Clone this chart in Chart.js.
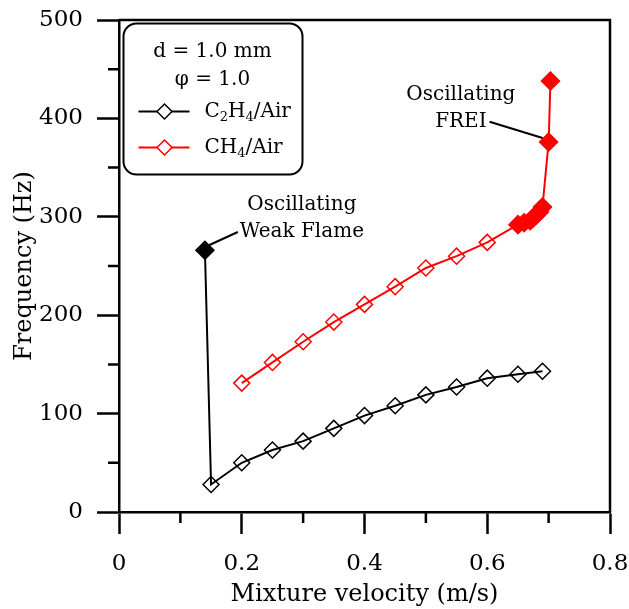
<!DOCTYPE html>
<html>
<head>
<meta charset="utf-8">
<script src="https://cdn.jsdelivr.net/npm/chart.js@4.4.1/dist/chart.umd.min.js"></script>
<style>
html, body { margin: 0; padding: 0; background: #fff; }
</style>
</head>
<body>
<canvas id="chart" width="629" height="609"></canvas>
<script>
// Frequency vs mixture velocity, d = 1.0 mm, phi = 1.0

const c2h4Velocity   = [0.14, 0.15, 0.20, 0.25, 0.30, 0.35, 0.40, 0.45, 0.50, 0.55, 0.60, 0.65, 0.69];
const c2h4Frequency  = [266, 28, 50, 63, 72, 85, 98, 108, 119, 127, 136, 140, 143];
const c2h4Oscillating = [true, false, false, false, false, false, false, false, false, false, false, false, false];

const ch4Velocity   = [0.20, 0.25, 0.30, 0.35, 0.40, 0.45, 0.50, 0.55, 0.60, 0.65, 0.66, 0.67, 0.675, 0.68, 0.685, 0.69, 0.70, 0.703];
const ch4Frequency  = [131, 152, 173, 193, 211, 229, 248, 260, 274, 292, 294, 296, 299, 302, 305, 310, 376, 438];
const ch4Oscillating = [false, false, false, false, false, false, false, false, false, true, true, true, true, true, true, true, true, true];

const xTicks = [0, 0.2, 0.4, 0.6, 0.8];
const yTicks = [0, 100, 200, 300, 400, 500];

const FONT = '"DejaVu Serif", serif';

const toPoints = (xs, ys) => xs.map((v, i) => ({ x: v, y: ys[i] }));

// text notes next to the oscillating points (placed in data units)
const notes = [
    { lines: ['Oscillating', 'Weak Flame'], x: 0.298, y: 312, side: 'left', dataset: 0, index: 0, off: [4, -5] },
    { lines: ['Oscillating', 'FREI'], x: 0.557, y: 424, side: 'right', dataset: 1, index: 16, off: [-6, -4] }
];

function drawDiamond(ctx, x, y, r, color, filled) {
    ctx.beginPath();
    ctx.moveTo(x, y - r);
    ctx.lineTo(x + r, y);
    ctx.lineTo(x, y + r);
    ctx.lineTo(x - r, y);
    ctx.closePath();
    ctx.fillStyle = filled ? color : '#fff';
    ctx.fill();
    ctx.strokeStyle = color;
    ctx.lineWidth = 1.5;
    ctx.stroke();
}

// draws text with subscript parts: [[text, isSub], ...]
function drawRich(ctx, parts, x, y, size) {
    ctx.textAlign = 'left';
    ctx.textBaseline = 'middle';
    ctx.fillStyle = '#000';
    parts.forEach(([t, sub]) => {
        ctx.font = (sub ? Math.round(size * 0.65) : size) + 'px ' + FONT;
        ctx.fillText(t, x, sub ? y + 6 : y);
        x += ctx.measureText(t).width;
    });
}

const extras = {
    id: 'extras',
    afterDatasetsDraw(chart) {
        const { ctx, chartArea: a, scales: { x, y } } = chart;
        ctx.save();
        ctx.strokeStyle = '#000';
        ctx.lineWidth = 2.5;

        // top and right frame
        ctx.beginPath();
        ctx.moveTo(a.left, a.top);
        ctx.lineTo(a.right, a.top);
        ctx.lineTo(a.right, a.bottom);
        ctx.stroke();

        // minor ticks
        ctx.beginPath();
        for (let i = 0; i < xTicks.length - 1; i++) {
            const px = x.getPixelForValue((xTicks[i] + xTicks[i + 1]) / 2);
            ctx.moveTo(px, a.bottom);
            ctx.lineTo(px, a.bottom + 11);
        }
        for (let i = 0; i < yTicks.length - 1; i++) {
            const py = y.getPixelForValue((yTicks[i] + yTicks[i + 1]) / 2);
            ctx.moveTo(a.left, py);
            ctx.lineTo(a.left - 11, py);
        }
        ctx.stroke();

        // notes
        ctx.font = '20px ' + FONT;
        ctx.fillStyle = '#000';
        ctx.textAlign = 'center';
        ctx.textBaseline = 'middle';
        notes.forEach(n => {
            const cx = x.getPixelForValue(n.x);
            const cy = y.getPixelForValue(n.y);
            n.lines.forEach((t, i) => ctx.fillText(t, cx, cy + i * 27));
            const w = ctx.measureText(n.lines[1]).width;
            const sx = n.side === 'left' ? cx - w / 2 - 2 : cx + w / 2 + 3;
            const pt = chart.getDatasetMeta(n.dataset).data[n.index];
            ctx.beginPath();
            ctx.lineWidth = 2;
            ctx.moveTo(sx, cy + 27);
            ctx.lineTo(pt.x + n.off[0], pt.y + n.off[1]);
            ctx.stroke();
        });
        ctx.restore();
    },
    afterDraw(chart) {
        const { ctx, chartArea: a } = chart;
        const L = a.left + 4.5, T = a.top + 3.5, W = 179, H = 151, R = 13;
        ctx.save();
        ctx.beginPath();
        ctx.roundRect(L, T, W, H, R);
        ctx.fillStyle = '#fff';
        ctx.fill();
        ctx.strokeStyle = '#000';
        ctx.lineWidth = 2;
        ctx.stroke();

        ctx.font = '20px ' + FONT;
        ctx.fillStyle = '#000';
        ctx.textAlign = 'center';
        ctx.textBaseline = 'middle';
        ctx.fillText('d = 1.0 mm', L + 89, T + 28);
        ctx.fillText('\u03c6 = 1.0', L + 89, T + 56);

        const rows = [
            { color: '#000', parts: [['C', 0], ['2', 1], ['H', 0], ['4', 1], ['/Air', 0]] },
            { color: '#ff0000', parts: [['CH', 0], ['4', 1], ['/Air', 0]] }
        ];
        rows.forEach((r, i) => {
            const ry = T + 88 + i * 36;
            ctx.beginPath();
            ctx.strokeStyle = r.color;
            ctx.lineWidth = 2;
            ctx.moveTo(L + 15, ry);
            ctx.lineTo(L + 66, ry);
            ctx.stroke();
            drawDiamond(ctx, L + 41, ry, 7.5, r.color, false);
            drawRich(ctx, r.parts, L + 81, ry, 20);
        });
        ctx.restore();
    }
};

const axisCommon = {
    border: { display: true, color: '#000', width: 2.5 },
    grid: { drawOnChartArea: false, drawTicks: true, tickLength: 22, tickWidth: 2.5, tickColor: '#000' },
    ticks: { color: '#000', font: { family: FONT, size: 23 }, padding: 14 }
};

new Chart(document.getElementById('chart').getContext('2d'), {
    type: 'scatter',
    data: {
        datasets: [
            {
                label: 'C2H4/Air',
                data: toPoints(c2h4Velocity, c2h4Frequency),
                showLine: true,
                borderColor: '#000',
                borderWidth: 2,
                pointStyle: 'rectRot',
                pointRadius: c2h4Oscillating.map(o => o ? 9 : 8),
                pointBorderWidth: 1.5,
                pointBorderColor: '#000',
                pointBackgroundColor: c2h4Oscillating.map(o => o ? '#000' : 'rgba(0,0,0,0)')
            },
            {
                label: 'CH4/Air',
                data: toPoints(ch4Velocity, ch4Frequency),
                showLine: true,
                borderColor: '#ff0000',
                borderWidth: 2,
                pointStyle: 'rectRot',
                pointRadius: ch4Oscillating.map(o => o ? 9 : 8),
                pointBorderWidth: 1.5,
                pointBorderColor: '#ff0000',
                pointBackgroundColor: ch4Oscillating.map(o => o ? '#ff0000' : 'rgba(0,0,0,0)')
            }
        ]
    },
    options: {
        responsive: false,
        animation: false,
        layout: { padding: { top: 20, right: 19, left: 0, bottom: 0 } },
        scales: {
            x: {
                ...axisCommon,
                type: 'linear',
                min: 0, max: 0.8,
                afterBuildTicks: s => { s.ticks = xTicks.map(v => ({ value: v })); },
                ticks: { ...axisCommon.ticks, padding: 16, callback: v => v === 0 ? '0' : v.toFixed(1) },
                title: { display: true, text: 'Mixture velocity (m/s)', color: '#000', font: { family: FONT, size: 24 }, padding: 0 },
                afterFit: s => { s.height = 97; s.paddingLeft = 0; s.paddingRight = 0; }
            },
            y: {
                ...axisCommon,
                type: 'linear',
                min: 0, max: 500,
                afterBuildTicks: s => { s.ticks = yTicks.map(v => ({ value: v })); },
                title: { display: true, text: 'Frequency (Hz)', color: '#000', font: { family: FONT, size: 24 }, padding: { top: 10, bottom: 10 } },
                afterFit: s => { s.width = 119; s.paddingTop = 0; s.paddingBottom = 0; }
            }
        },
        plugins: {
            legend: { display: false },
            tooltip: { enabled: false }
        }
    },
    plugins: [extras]
});
</script>
</body>
</html>
